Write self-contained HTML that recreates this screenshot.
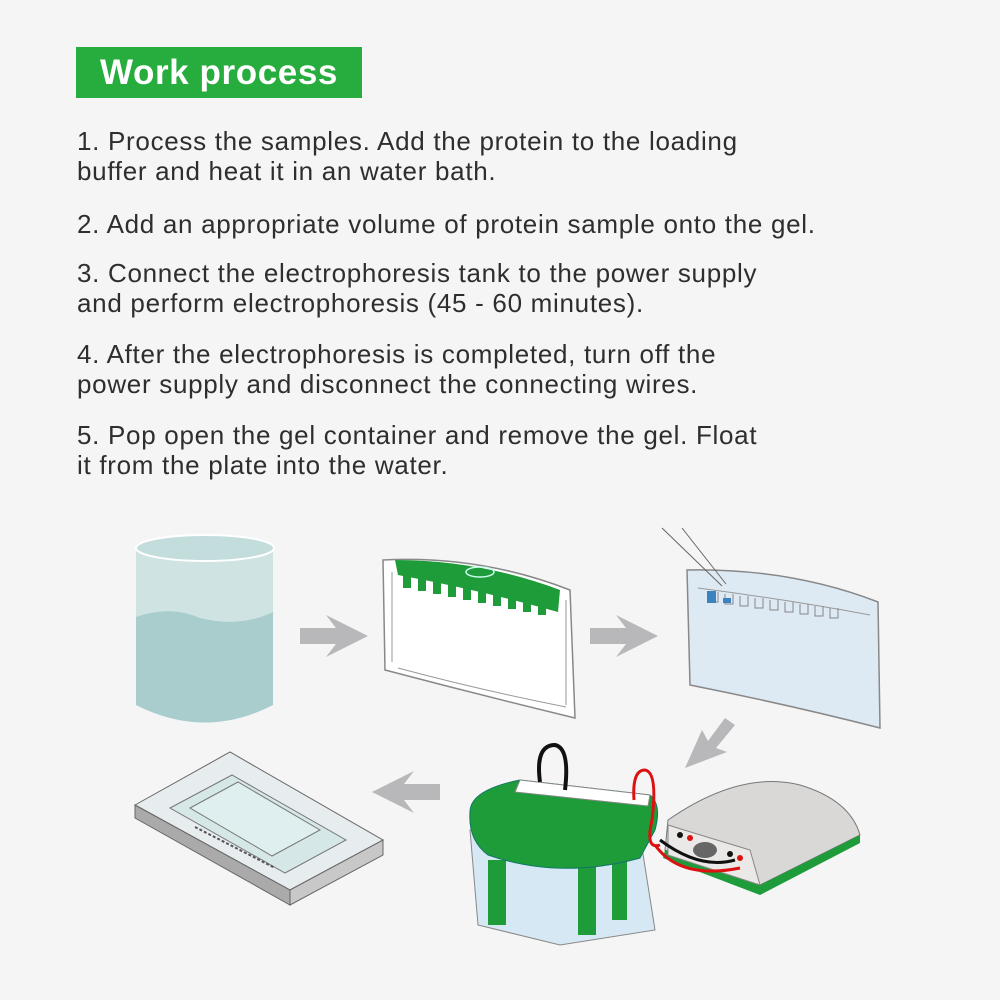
<!DOCTYPE html>
<html><head><meta charset="utf-8"><style>
body{margin:0;width:1000px;height:1000px;background:#f5f5f6;font-family:"Liberation Sans",Arial,sans-serif;position:relative;overflow:hidden}
.t{position:absolute;left:76px;top:47px;width:286px;height:51px;background:#27ad3e;color:#fff;font-weight:bold;font-size:35px;letter-spacing:0.6px;line-height:51px;text-align:center}
.p{position:absolute;left:77px;font-size:26px;letter-spacing:0.7px;color:#2e2e2e;line-height:30px;margin:0;white-space:nowrap}
svg{position:absolute;left:0;top:0}
</style></head><body>
<div class="t">Work process</div>
<p class="p" style="top:126px">1. Process the samples. Add the protein to the loading<br>buffer and heat it in an water bath.</p>
<p class="p" style="top:209px">2. Add an appropriate volume of protein sample onto the gel.</p>
<p class="p" style="top:258px">3. Connect the electrophoresis tank to the power supply<br>and perform electrophoresis (45 - 60 minutes).</p>
<p class="p" style="top:339px">4. After the electrophoresis is completed, turn off the<br>power supply and disconnect the connecting wires.</p>
<p class="p" style="top:420px">5. Pop open the gel container and remove the gel. Float<br>it from the plate into the water.</p>
<svg width="1000" height="1000" viewBox="0 0 1000 1000">
<path d="M136,547 L273,547 L273,705 Q205,740 136,705 Z" fill="#cfe3e3"/>
<path d="M136,617 Q170,605 200,618 Q240,628 273,612 L273,705 Q205,740 136,705 Z" fill="#a9cccc"/>
<ellipse cx="205" cy="548" rx="69" ry="13" fill="#c3dcdc" stroke="#fff" stroke-width="2"/>
<g fill="#b8b8bb">
<path d="M300,628 L336,628 L326,615 L368,636 L326,657 L336,644 L300,644 Z"/>
<path d="M590,628 L626,628 L616,615 L658,636 L616,657 L626,644 L590,644 Z"/>
<path d="M440,784 L404,784 L414,771 L372,792 L414,813 L404,800 L440,800 Z"/>
<path d="M735,725 L716,748 L727,752 L685,768 L702,730 L708,741 L725,718 Z"/>
</g>
<path d="M383,560 Q480,555 570,590 L575,718 Q480,695 385,670 Z" fill="#fff" stroke="#888" stroke-width="1.5"/>
<path d="M392,572 L392,662 M398,668 Q480,690 566,707 M566,600 L566,705" stroke="#999" fill="none"/>
<path d="M395,560 Q480,560 560,590 L558,612 Q480,590 398,575 Z" fill="#1f9c3a"/>
<g fill="#1f9c3a"><rect x="403" y="574" width="8" height="14"/><rect x="418" y="577" width="8" height="14"/><rect x="433" y="580" width="8" height="14"/><rect x="448" y="583" width="8" height="14"/><rect x="463" y="586" width="8" height="14"/><rect x="478" y="589" width="8" height="14"/><rect x="493" y="592" width="8" height="14"/><rect x="508" y="595" width="8" height="14"/><rect x="523" y="598" width="8" height="14"/><rect x="538" y="601" width="8" height="14"/></g>
<ellipse cx="480" cy="572" rx="14" ry="5" fill="none" stroke="#cfe" stroke-width="1.5"/>
<path d="M687,570 Q790,568 878,602 L880,728 Q790,705 690,685 Z" fill="#dde9f3" stroke="#888" stroke-width="1.5"/>
<path d="M698,588 Q790,600 870,615" stroke="#999" fill="none"/>
<g fill="none" stroke="#888"><path d="M710,592 v10 h8 v-10 M725,594 v10 h8 v-10 M740,596 v10 h8 v-10 M755,598 v10 h8 v-10 M770,600 v10 h8 v-10 M785,602 v10 h8 v-10 M800,604 v10 h8 v-10 M815,606 v10 h8 v-10 M830,608 v10 h8 v-10"/></g>
<rect x="707" y="591" width="9" height="12" fill="#3a82c0"/><rect x="723" y="598" width="8" height="5" fill="#3a82c0"/>
<path d="M662,528 L722,586 M682,528 L726,584" stroke="#666" stroke-width="1"/>
<path d="M135,805 L230,752 L383,840 L290,890 Z" fill="#e7ecee" stroke="#666"/>
<path d="M135,805 L135,818 L290,905 L290,890 Z" fill="#aaa" stroke="#666"/>
<path d="M290,890 L383,840 L383,855 L290,905 Z" fill="#c8c8c8" stroke="#666"/>
<path d="M170,808 L232,775 L346,840 L285,873 Z" fill="#d6e7e7" stroke="#777"/>
<path d="M190,808 L238,782 L320,830 L272,856 Z" fill="#dfeeee" stroke="#777"/>
<path d="M195,827 L275,868" stroke="#555" stroke-width="2" stroke-dasharray="3,2"/>
<path d="M470,830 L640,835 L655,930 L560,945 L478,925 Z" fill="#d5e8f3" stroke="#888"/>
<rect x="488" y="860" width="18" height="65" fill="#1f9c3a"/><rect x="578" y="860" width="18" height="75" fill="#1f9c3a"/><rect x="612" y="855" width="15" height="65" fill="#1f9c3a"/>
<path d="M470,812 Q470,790 520,780 L650,795 Q662,805 655,830 L640,858 Q560,880 488,855 Q468,840 470,812 Z" fill="#1f9c3a" stroke="#176"/>
<path d="M520,780 L650,795 L648,806 L515,792 Z" fill="#fff" stroke="#888"/>
<path d="M540,782 Q535,745 555,745 Q570,748 565,790" stroke="#111" stroke-width="4" fill="none"/>
<path d="M634,800 Q632,770 645,770 Q658,772 652,820 Q645,850 660,845" stroke="#d11" stroke-width="3" fill="none"/>
<path d="M668,820 Q740,770 800,785 Q850,800 860,835 L760,885 L665,850 Z" fill="#d9d8d6" stroke="#777"/>
<path d="M665,850 L760,885 L860,835 L860,843 L760,895 L663,858 Z" fill="#1f9c3a"/>
<path d="M668,825 Q700,835 750,850 L760,885 L668,855 Z" fill="#eae9e7" stroke="#888"/>
<ellipse cx="705" cy="850" rx="12" ry="8" fill="#666"/>
<circle cx="680" cy="835" r="3" fill="#111"/><circle cx="690" cy="838" r="3" fill="#d11"/><circle cx="730" cy="854" r="3" fill="#111"/><circle cx="740" cy="858" r="3" fill="#d11"/>
<path d="M660,840 Q700,870 735,860" stroke="#111" stroke-width="3" fill="none"/>
<path d="M655,845 Q680,880 740,868" stroke="#d11" stroke-width="3" fill="none"/>
</svg>
</body></html>
